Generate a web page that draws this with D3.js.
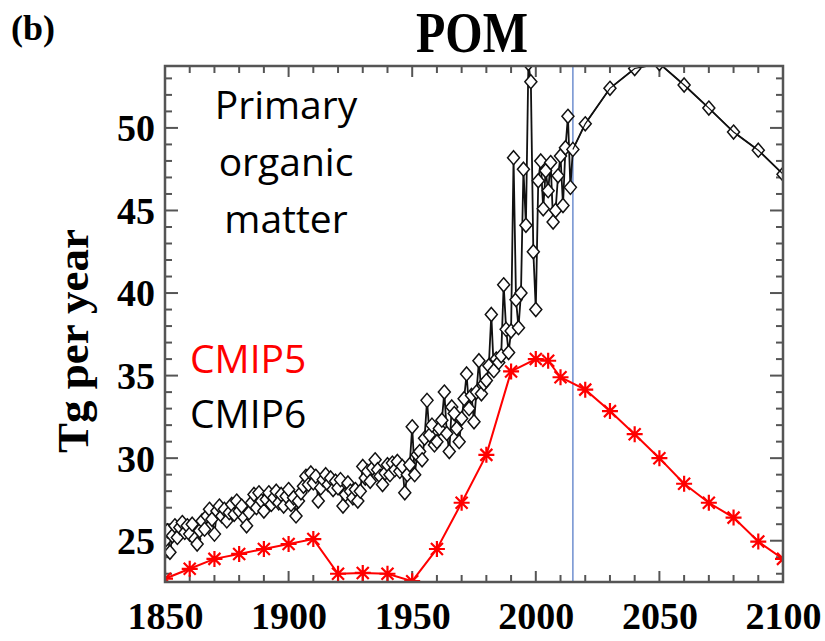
<!DOCTYPE html>
<html><head><meta charset="utf-8">
<script src="https://cdn.jsdelivr.net/npm/d3@7"></script>
<style>body{margin:0;background:#fff}svg{display:block}</style>
</head><body>
<svg id="c" width="825" height="641"></svg>
<script>
// ---- data ----
const cmip6HistYears = d3.range(1850, 2015);
const cmip6HistValues = [
 25.0,25.6,24.3,25.3,25.9,25.2,25.8,26.1,25.5,25.9,
 25.4,26.0,25.1,24.8,25.6,26.2,25.7,26.5,26.9,26.3,
 25.4,26.8,27.1,26.5,26.9,26.2,26.7,27.2,26.6,27.4,
 26.8,27.1,26.4,25.9,26.7,27.3,27.8,27.0,27.9,27.4,
 26.8,27.5,27.9,27.2,27.6,28.0,27.3,27.8,27.1,27.7,
 28.1,27.2,27.6,26.5,27.4,27.9,28.3,28.9,28.4,29.1,
 28.5,28.9,27.4,28.2,28.7,29.0,28.4,28.8,28.1,28.6,
 28.2,28.7,27.1,27.8,28.5,28.0,27.6,28.1,27.4,28.0,
 29.5,28.8,29.2,28.6,29.4,29.9,29.3,28.9,28.4,29.1,
 29.6,29.0,29.7,29.3,29.8,29.2,29.5,27.9,29.0,29.6,
 31.9,29.0,30.2,30.4,29.9,31.2,33.5,31.4,32.0,30.8,
 31.0,31.8,32.3,34.0,31.5,30.4,33.1,32.7,31.8,31.0,
 32.4,33.6,35.1,33.0,33.8,32.2,34.0,35.9,33.9,34.5,
 34.7,35.6,38.7,35.3,36.0,35.8,36.2,40.5,37.8,36.4,
 37.7,48.2,39.6,37.9,40.0,47.5,44.1,53.9,52.8,42.5,
 39.0,46.8,48.0,45.1,47.4,46.2,47.9,44.3,45.0,47.1,
 48.3,45.3,48.8,50.7,46.4
];
const cmip6ProjYears = [2015,2020,2030,2040,2050,2060,2070,2080,2090,2100];
const cmip6ProjValues = [48.7,50.25,52.4,53.6,53.9,52.6,51.2,49.75,48.65,47.2];

const cmip5Years = [1850,1860,1870,1880,1890,1900,1910,1920,1930,1940,1950,1960,1970,1980,1990,2000,2005,2010,2020,2030,2040,2050,2060,2070,2080,2090,2100];
const cmip5Values = [22.7,23.3,23.9,24.2,24.5,24.8,25.1,23.0,23.05,23.0,22.55,24.5,27.3,30.2,35.25,36.0,35.9,34.9,34.15,32.85,31.45,30.0,28.45,27.3,26.4,24.95,23.9];

const xTickValues = [1850,1900,1950,2000,2050,2100];
const yTickValues = [25,30,35,40,45,50];
const refYear = 2015;

// ---- layout ----
const L = 165, R = 783, T = 66, B = 582;
const svg = d3.select('#c');
const x = d3.scaleLinear().domain([1850, 2100]).range([L, R]);
const y = d3.scaleLinear().domain([22.5, 53.75]).range([B, T]);

svg.append('defs').append('clipPath').attr('id','clip')
  .append('rect').attr('x',L).attr('y',T).attr('width',R-L).attr('height',B-T);

const serif = "'Liberation Serif','Times New Roman',serif";
const sans = "'Open Sans','Noto Sans',sans-serif";
const axCol = '#555';

// ticks
const minorX = d3.range(1850, 2101, 10);
const minorY = d3.range(23, 54, 1);
const tg = svg.append('g').attr('stroke', axCol).attr('stroke-width', 2);
minorX.forEach(v => {
  const len = (v % 50 === 0) ? 11 : 7;
  tg.append('line').attr('x1', x(v)).attr('x2', x(v)).attr('y1', B).attr('y2', B - len);
  tg.append('line').attr('x1', x(v)).attr('x2', x(v)).attr('y1', T).attr('y2', T + len);
});
minorY.forEach(v => {
  const len = (v % 5 === 0) ? 13 : 7;
  tg.append('line').attr('x1', L).attr('x2', L + len).attr('y1', y(v)).attr('y2', y(v));
  tg.append('line').attr('x1', R).attr('x2', R - len).attr('y1', y(v)).attr('y2', y(v));
});

// axes labels via d3 axes (text only)
const xAxis = d3.axisBottom(x).tickValues(xTickValues).tickSize(0).tickPadding(0).tickFormat(d3.format('d'));
const gx = svg.append('g').attr('transform', `translate(0,${B})`).call(xAxis);
gx.select('.domain').remove();
gx.selectAll('text').attr('font-family', serif).attr('font-weight','bold').attr('font-size', 38)
  .attr('fill','#000').attr('dy', null).attr('y', 47);

const yAxis = d3.axisLeft(y).tickValues(yTickValues).tickSize(0).tickPadding(10);
const gy = svg.append('g').attr('transform', `translate(${L},0)`).call(yAxis);
gy.select('.domain').remove();
gy.selectAll('text').attr('font-family', serif).attr('font-weight','bold').attr('font-size', 38)
  .attr('fill','#000').attr('dy','0.34em');

// reference line
svg.append('line').attr('x1', x(refYear)).attr('x2', x(refYear)).attr('y1', T).attr('y2', B)
  .attr('stroke', '#6f8fcf').attr('stroke-width', 1.5);

// data
const plot = svg.append('g').attr('clip-path','url(#clip)');
const cmip6 = cmip6HistYears.map((yr,i) => [yr, cmip6HistValues[i]])
  .concat(cmip6ProjYears.map((yr,i) => [yr, cmip6ProjValues[i]]));
const line = d3.line().x(d => x(d[0])).y(d => y(d[1]));
plot.append('path').datum(cmip6).attr('d', line).attr('fill','none').attr('stroke','#111').attr('stroke-width',1.8);
const dia = 'M0,-7L6,0L0,7L-6,0Z';
plot.append('g').selectAll('path').data(cmip6).join('path')
  .attr('transform', d => `translate(${x(d[0])},${y(d[1])})`)
  .attr('d', dia).attr('fill','#fff').attr('stroke','#111').attr('stroke-width',1.5);
plot.append('path').datum(cmip6.filter(d => d[0] >= 2015)).attr('d', line).attr('fill','none').attr('stroke','#111').attr('stroke-width',1.2);

const cmip5 = cmip5Years.map((yr,i) => [yr, cmip5Values[i]]);
plot.append('path').datum(cmip5).attr('d', line).attr('fill','none').attr('stroke','#f00').attr('stroke-width',2);
const ast = 'M0,-8L0,8M-8,0L8,0M-6,-6L6,6M-6,6L6,-6';
plot.append('g').selectAll('path').data(cmip5).join('path')
  .attr('transform', d => `translate(${x(d[0])},${y(d[1])})`)
  .attr('d', ast).attr('fill','none').attr('stroke','#f00').attr('stroke-width',2.2);

// frame
svg.append('rect').attr('x',L).attr('y',T).attr('width',R-L).attr('height',B-T)
  .attr('fill','none').attr('stroke',axCol).attr('stroke-width',2.5);

// titles
svg.append('text').attr('transform','translate(472,52) scale(1,1.2)').attr('text-anchor','middle')
  .attr('font-family', serif).attr('font-weight','bold').attr('font-size', 48).text('POM');
svg.append('text').attr('x', 11).attr('y', 40)
  .attr('font-family', serif).attr('font-weight','bold').attr('font-size', 36).text('(b)');
svg.append('text').attr('transform', 'translate(88,341) rotate(-90)').attr('text-anchor','middle')
  .attr('font-family', serif).attr('font-weight','bold').attr('font-size', 45).text('Tg per year');

// annotations
const ann = svg.append('g').attr('font-family', sans).attr('font-size', 39).attr('text-anchor','middle').attr('fill','#000');
ann.append('text').attr('x', 286).attr('y', 119).text('Primary');
ann.append('text').attr('x', 286).attr('y', 176).text('organic');
ann.append('text').attr('x', 286).attr('y', 233).text('matter');
svg.append('text').attr('x', 190).attr('y', 373).attr('font-family', sans).attr('font-size', 39).attr('fill','#f00').text('CMIP5');
svg.append('text').attr('x', 190).attr('y', 428).attr('font-family', sans).attr('font-size', 39).attr('fill','#000').text('CMIP6');
</script>
</body></html>
